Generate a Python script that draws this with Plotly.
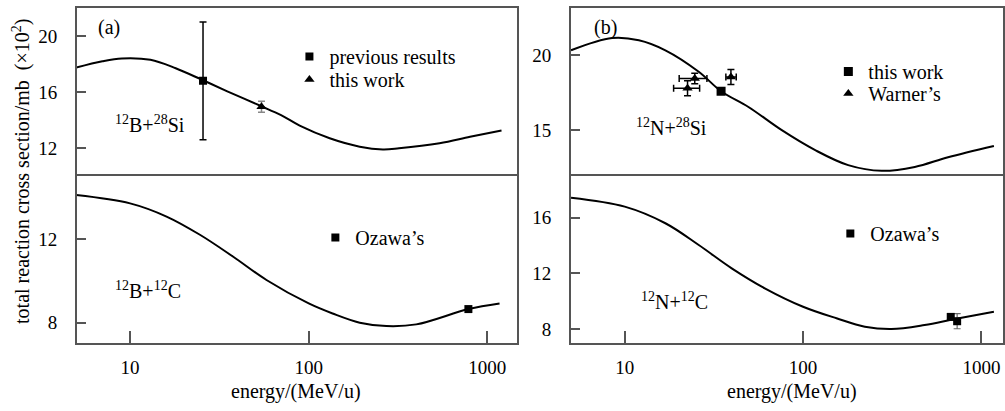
import plotly.graph_objects as go

W, H = 1005, 411

# ---- data ----
# (a) 12B + 28Si theory curve
e_bsi = [5, 7, 9, 13, 18, 25, 35, 54, 70, 89, 131, 193, 260, 320, 540, 800, 1200]
s_bsi = [17.75, 18.2, 18.4, 18.3, 17.7, 16.9, 16.05, 15.0, 14.35, 13.6, 12.7, 12.1, 11.9, 11.98, 12.34, 12.8, 13.25]
# (a) 12B + 12C theory curve
e_bc = [5, 10, 16, 24.6, 37.8, 58, 100, 136, 193, 272, 400, 783, 1170]
s_bc = [14.1, 13.7, 13.07, 12.2, 11.15, 10.04, 8.92, 8.44, 8.0, 7.84, 7.92, 8.65, 8.92]
# (b) 12N + 28Si theory curve
e_nsi = [5, 8.5, 12, 16.9, 26, 34.7, 49.4, 76, 117, 179, 276, 423, 650, 1175]
s_nsi = [20.33, 21.15, 21.0, 20.33, 18.9, 17.6, 16.55, 15.0, 13.67, 12.67, 12.29, 12.55, 13.2, 13.95]
# (b) 12N + 12C theory curve
e_nc = [5, 10, 16.9, 26, 39.8, 61, 100, 154, 222, 313, 480, 710, 1175]
s_nc = [17.43, 16.79, 15.6, 14.04, 12.37, 10.94, 9.62, 8.79, 8.19, 8.02, 8.31, 8.74, 9.26]

# experimental points
prev_e, prev_s, prev_err = [25.6], [16.8], [4.2]
this_a_e, this_a_s, this_a_err = [54.4], [14.95], [0.4]
oz_a_e, oz_a_s = [783], [8.65]
this_b_e, this_b_s = [34.7], [17.6]
warner_e = [22.5, 24.7, 39.4]
warner_s = [17.8, 18.45, 18.55]
warner_xlo = [3.7, 4.5, 2.5]
warner_xhi = [3.8, 4.2, 2.8]
warner_yerr = [0.5, 0.35, 0.5]
oz_b_e, oz_b_s, oz_b_err = [673, 731], [8.89, 8.58], [0.0, 0.54]

FONT = "Liberation Serif"
AX = "#555555"
TS = 20

def px(x):
    return x / W

def py(y):
    return 1 - y / H

fig = go.Figure()

line = dict(color="black", width=2, shape="spline", smoothing=1.0)
fig.add_trace(go.Scatter(x=e_bc, y=s_bc, mode="lines", line=line, xaxis="x", yaxis="y", showlegend=False))
fig.add_trace(go.Scatter(x=e_nc, y=s_nc, mode="lines", line=line, xaxis="x2", yaxis="y2", showlegend=False))
fig.add_trace(go.Scatter(x=e_bsi, y=s_bsi, mode="lines", line=line, xaxis="x3", yaxis="y3", showlegend=False))
fig.add_trace(go.Scatter(x=e_nsi, y=s_nsi, mode="lines", line=line, xaxis="x4", yaxis="y4", showlegend=False))

sq = dict(symbol="square", color="black", size=8)
tri = dict(symbol="triangle-up", color="black", size=9)
eb = dict(color="black", thickness=1.5, width=3.5)

# (a) top
fig.add_trace(go.Scatter(x=prev_e, y=prev_s, mode="markers", marker=sq, name="previous results",
                         error_y=dict(type="data", array=prev_err, **eb),
                         xaxis="x3", yaxis="y3", legend="legend"))
fig.add_trace(go.Scatter(x=this_a_e, y=this_a_s, mode="markers", marker=tri, name="this work",
                         error_y=dict(type="data", array=this_a_err, color="#888", thickness=1.5, width=3.5),
                         xaxis="x3", yaxis="y3", legend="legend2"))
# (a) bottom
fig.add_trace(go.Scatter(x=oz_a_e, y=oz_a_s, mode="markers", marker=sq, name="Ozawa\u2019s",
                         xaxis="x", yaxis="y", legend="legend3"))
# (b) top
fig.add_trace(go.Scatter(x=this_b_e, y=this_b_s, mode="markers", marker=dict(symbol="square", color="black", size=9),
                         name="this work", xaxis="x4", yaxis="y4", legend="legend4"))
fig.add_trace(go.Scatter(x=warner_e, y=warner_s, mode="markers", marker=tri, name="Warner\u2019s",
                         error_y=dict(type="data", array=warner_yerr, **eb),
                         error_x=dict(type="data", array=warner_xhi, arrayminus=warner_xlo, **eb),
                         xaxis="x4", yaxis="y4", legend="legend5"))
# (b) bottom
fig.add_trace(go.Scatter(x=oz_b_e, y=oz_b_s, mode="markers", marker=sq, name="Ozawa\u2019s",
                         error_y=dict(type="data", array=oz_b_err, color="#666", thickness=1.2, width=3.5),
                         xaxis="x2", yaxis="y2", legend="legend6"))

xl = [px(77), px(518.5)]
xr = [px(572), 1.0]
yt = [py(175.5), py(8)]
yb = [py(343), py(175.5)]

rl = [0.702, 0.702 + (518.5 - 77) / 179.0]
rr = [0.698, 0.698 + (1005 - 572) / 178.7]

base = dict(showgrid=False, zeroline=False, linecolor=AX, linewidth=1.5,
            tickfont=dict(family=FONT, size=19, color="black"))
common_ax = dict(showline=True, mirror=True, **base)
xt = dict(type="log", ticks="inside", ticklen=12, tickcolor=AX, tickwidth=1.5,
          tickvals=[10, 100, 1000], ticktext=["10", "100", "1000"], ticklabelstandoff=6)
yt_ = dict(ticks="inside", ticklen=9, tickcolor=AX, tickwidth=1.5, ticklabelstandoff=14)
# top panels: x-axis line only along the top border (the divider belongs to the lower panel)
xtop = dict(type="log", side="top", showline=True, mirror=False, showticklabels=False, ticks="", **base)

fig.update_layout(
    width=W, height=H, margin=dict(l=0, r=0, t=0, b=0),
    paper_bgcolor="white", plot_bgcolor="white",
    font=dict(family=FONT, size=TS, color="black"),
    xaxis=dict(domain=xl, anchor="y", range=rl, **xt, **common_ax),
    yaxis=dict(domain=yb, anchor="x", range=[7.03, 15.03], tickvals=[8, 12], **yt_, **common_ax),
    xaxis2=dict(domain=xr, anchor="y2", range=rr, **xt, **common_ax),
    yaxis2=dict(domain=yb, anchor="x2", range=[7.02, 19.02], tickvals=[8, 12, 16], **yt_, **common_ax),
    xaxis3=dict(domain=xl, anchor="y3", range=rl, **xtop),
    yaxis3=dict(domain=yt, anchor="x3", range=[10.04, 22.0], tickvals=[12, 16, 20], **yt_, **common_ax),
    xaxis4=dict(domain=xr, anchor="y4", range=rr, **xtop),
    yaxis4=dict(domain=yt, anchor="x4", range=[11.98, 23.15], tickvals=[15, 20], **yt_, **common_ax),
)

leg = dict(xanchor="left", yanchor="top", bgcolor="rgba(0,0,0,0)", borderwidth=0,
           font=dict(family=FONT, size=TS, color="black"))
fig.update_layout(
    legend=dict(x=px(290), y=py(37), **leg),
    legend2=dict(x=px(290), y=py(60), **leg),
    legend3=dict(x=px(316), y=py(218), **leg),
    legend4=dict(x=px(830), y=py(52), **leg),
    legend5=dict(x=px(830), y=py(74), **leg),
    legend6=dict(x=px(832), y=py(214), **leg),
)

ann = []
def txt(t, x, y, xanchor="left", angle=0):
    ann.append(dict(text=t, x=px(x), y=py(y), xref="paper", yref="paper", showarrow=False,
                    xanchor=xanchor, yanchor="middle", textangle=angle,
                    font=dict(family=FONT, size=TS, color="black")))

txt("(a)", 109, 27, "center")
txt("(b)", 607, 27, "center")
txt("<sup>12</sup>B+<sup>28</sup>Si", 113, 124)
txt("<sup>12</sup>B+<sup>12</sup>C", 113, 290)
txt("<sup>12</sup>N+<sup>28</sup>Si", 635, 127)
txt("<sup>12</sup>N+<sup>12</sup>C", 640, 301)
txt("total reaction cross section/mb&nbsp;&nbsp;(\u00d710<sup>2</sup>)", 21, 171, "center", -90)
txt("energy/(MeV/u)", 297, 391, "center")
txt("energy/(MeV/u)", 794, 391, "center")
fig.update_layout(annotations=ann)

fig.write_html("out.html")
